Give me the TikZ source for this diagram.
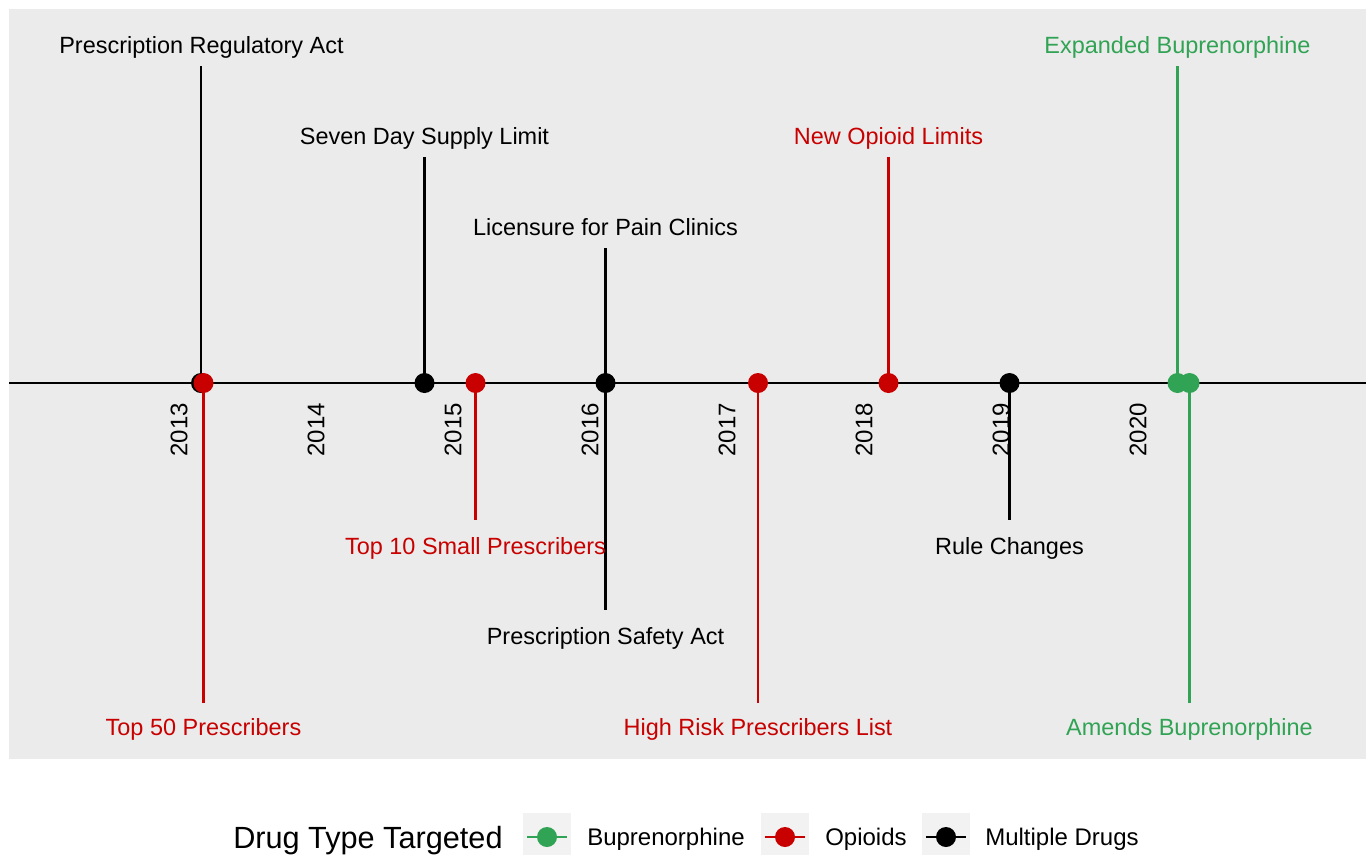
\documentclass[tikz,border=0pt]{standalone}
\usepackage{fontspec}
\setmainfont{Liberation Sans}
\definecolor{bup}{RGB}{49,163,84}
\definecolor{opi}{RGB}{200,0,0}
\definecolor{panelbg}{RGB}{235,235,235}
\definecolor{keybg}{RGB}{242,242,242}
\begin{document}
\begin{tikzpicture}[x=0.75pt,y=-0.75pt,
  evlabel/.style={anchor=base,inner sep=0pt,font=\fontsize{17.6}{20}\selectfont},
  yearlab/.style={anchor=east,rotate=90,inner sep=0pt,font=\fontsize{18}{20}\selectfont},
  dot/.style={circle,fill=#1,inner sep=0pt,minimum size=15pt},
  keydot/.style={circle,fill=#1,inner sep=0pt,minimum size=15pt},
  stem/.style={line width=2.1pt,draw=#1},
  keyline/.style={line width=1.8pt,draw=#1},
  legtext/.style={anchor=base west,inner sep=0pt,font=\fontsize{18}{20}\selectfont},
]
\useasboundingbox (0,0) rectangle (1366,854);
\fill[panelbg] (9,9) rectangle (1366,759);

% axis
\coordinate (axL) at (9,383);
\coordinate (axR) at (1366,383);
\draw[line width=1.5pt] (axL) -- (axR);

% year labels
\foreach \yr/\xx in {2013/179,2014/316,2015/453,2016/590,2017/727,2018/864,2019/1001,2020/1138}
  \node[yearlab] (y\yr) at (\xx,403) {\yr};

% stem end coordinates
\coordinate (e1) at (201,66);
\coordinate (e2) at (203.5,703);
\coordinate (e3) at (424.5,157);
\coordinate (e4) at (475.5,520);
\coordinate (e5) at (605.5,248);
\coordinate (e6) at (605.5,610);
\coordinate (e7) at (758,703);
\coordinate (e8) at (888.5,157);
\coordinate (e9) at (1009.5,520);
\coordinate (e10) at (1177.5,66);
\coordinate (e11) at (1189.5,703);

% point positions (named, unfilled; filled after stems)
\path node[circle,inner sep=0pt,minimum size=15pt] (p1) at (201,383) {}
      node[circle,inner sep=0pt,minimum size=15pt] (p2) at (203.5,383) {}
      node[circle,inner sep=0pt,minimum size=15pt] (p3) at (424.5,383) {}
      node[circle,inner sep=0pt,minimum size=15pt] (p4) at (475.5,383) {}
      node[circle,inner sep=0pt,minimum size=15pt] (p5) at (605.5,383) {}
      node[circle,inner sep=0pt,minimum size=15pt] (p7) at (758,383) {}
      node[circle,inner sep=0pt,minimum size=15pt] (p8) at (888.5,383) {}
      node[circle,inner sep=0pt,minimum size=15pt] (p9) at (1009.5,383) {}
      node[circle,inner sep=0pt,minimum size=15pt] (p10) at (1177.5,383) {}
      node[circle,inner sep=0pt,minimum size=15pt] (p11) at (1189.5,383) {};

% stems
\draw[stem=black] (p1.center) -- (e1);
\draw[stem=opi] (p2.center) -- (e2);
\draw[stem=black] (p3.center) -- (e3);
\draw[stem=opi] (p4.center) -- (e4);
\draw[stem=black] (p5.center) -- (e5);
\draw[stem=black] (p5.center) -- (e6);
\draw[stem=opi] (p7.center) -- (e7);
\draw[stem=opi] (p8.center) -- (e8);
\draw[stem=black] (p9.center) -- (e9);
\draw[stem=bup] (p10.center) -- (e10);
\draw[stem=bup] (p11.center) -- (e11);

% points on top of stems
\fill[black] (p1) circle[radius=7.5pt];
\fill[opi] (p2) circle[radius=7.5pt];
\fill[black] (p3) circle[radius=7.5pt];
\fill[opi] (p4) circle[radius=7.5pt];
\fill[black] (p5) circle[radius=7.5pt];
\fill[opi] (p7) circle[radius=7.5pt];
\fill[opi] (p8) circle[radius=7.5pt];
\fill[black] (p9) circle[radius=7.5pt];
\fill[bup] (p10) circle[radius=7.5pt];
\fill[bup] (p11) circle[radius=7.5pt];

% labels
\node[evlabel] (l1) at (201.5,53) {Prescription Regulatory Act};
\node[evlabel,text=opi] (l2) at (203.5,735) {Top 50 Prescribers};
\node[evlabel] (l3) at (424.5,144) {Seven Day Supply Limit};
\node[evlabel,text=opi] (l4) at (475.5,554) {Top 10 Small Prescribers};
\node[evlabel] (l5) at (605.5,235) {Licensure for Pain Clinics};
\node[evlabel] (l6) at (605.5,644) {Prescription Safety Act};
\node[evlabel,text=opi] (l7) at (758,735) {High Risk Prescribers List};
\node[evlabel,text=opi] (l8) at (888.5,144) {New Opioid Limits};
\node[evlabel] (l9) at (1009.5,554) {Rule Changes};
\node[evlabel,text=bup] (l10) at (1177.5,53) {Expanded Buprenorphine};
\node[evlabel,text=bup] (l11) at (1189.5,735) {Amends Buprenorphine};

% legend
\node[anchor=base west,inner sep=0pt,font=\fontsize{23}{26}\selectfont] (legtitle) at (233,848) {Drug Type Targeted};
\foreach \nm/\kx/\col/\txt/\tx in {kb/523/bup/Buprenorphine/587, ko/761/opi/Opioids/825, km/922/black/Multiple Drugs/985}{
  \fill[keybg] (\kx,813) rectangle ++(48,48);
  \coordinate (\nm L) at (\kx+4,837);
  \coordinate (\nm R) at (\kx+44,837);
  \draw[keyline=\col] (\nm L) -- (\nm R);
  \node[keydot=\col] (\nm dot) at (\kx+24,837) {};
  \node[legtext] (\nm text) at (\tx,845) {\txt};
}
\end{tikzpicture}
\end{document}
